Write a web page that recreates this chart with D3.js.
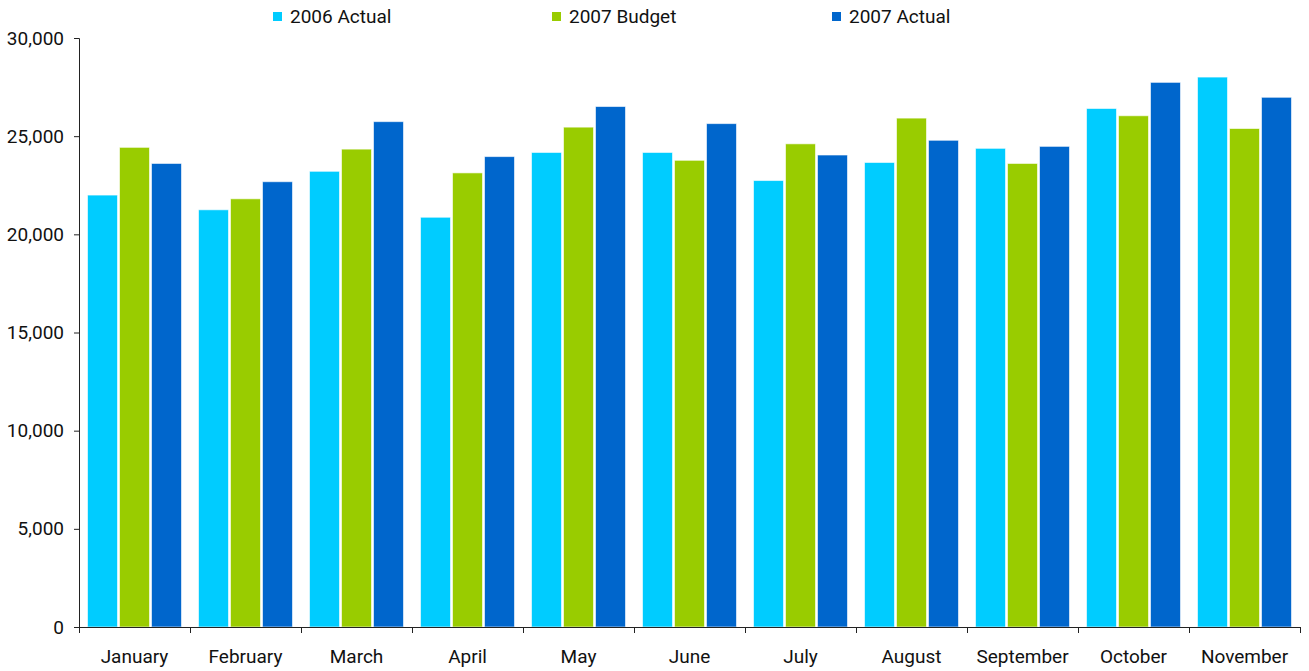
<!DOCTYPE html>
<html>
<head>
<meta charset="utf-8">
<script src="https://cdn.jsdelivr.net/npm/d3@7"></script>
<style>
  body { margin: 0; background: #fff; }
  text { font-family: Roboto, "DejaVu Sans", sans-serif; fill: #111; }
</style>
</head>
<body>
<div id="chart"></div>
<script>
var months = ["January", "February", "March", "April", "May", "June", "July", "August", "September", "October", "November"];
var seriesNames = ["2006 Actual", "2007 Budget", "2007 Actual"];
var actual2006 = [22000, 21250, 23210, 20870, 24170, 24170, 22740, 23660, 24380, 26410, 28010];
var budget2007 = [24430, 21810, 24340, 23130, 25460, 23770, 24610, 25920, 23610, 26040, 25390];
var actual2007 = [23610, 22680, 25740, 23960, 26510, 25640, 24040, 24790, 24480, 27740, 26980];
var colors = ["#00ccff", "#99cc00", "#0066cc"];
var yTicks = [0, 5000, 10000, 15000, 20000, 25000, 30000];

var allSeries = [actual2006, budget2007, actual2007];

var width = 1309, height = 671;
var margin = {top: 38, right: 9, bottom: 44, left: 79};
var innerW = width - margin.left - margin.right,
    innerH = height - margin.top - margin.bottom;

var svg = d3.select("#chart")
    .append("svg")
        .attr("width", width)
        .attr("height", height);

var g = svg.append("g")
    .attr("transform", "translate(" + margin.left + "," + margin.top + ")");

var x0 = d3.scaleBand().domain(months).range([0, innerW]).padding(0);
var x1 = d3.scaleBand().domain(seriesNames).range([0, x0.bandwidth()])
    .paddingInner(0.0625).paddingOuter(0.266);
var y = d3.scaleLinear().domain([0, 30000]).range([innerH, 0]);

// bars
var groups = g.selectAll(".month")
    .data(months)
    .enter().append("g")
    .attr("class", "month")
    .attr("transform", function(d) { return "translate(" + x0(d) + ",0)"; });

groups.selectAll("rect")
    .data(function(d, i) {
        return seriesNames.map(function(s, j) { return {s: s, v: allSeries[j][i], c: colors[j]}; });
    })
    .enter().append("rect")
    .attr("x", function(d) { return x1(d.s); })
    .attr("width", x1.bandwidth())
    .attr("y", function(d) { return y(d.v); })
    .attr("height", function(d) { return innerH - y(d.v); })
    .attr("fill", function(d) { return d.c; })
    .attr("stroke", "rgba(255,255,255,0.6)")
    .attr("stroke-width", 1);

// y axis
var yAxis = d3.axisLeft(y)
    .tickValues(yTicks)
    .tickSize(5)
    .tickPadding(10)
    .tickFormat(d3.format(","));
var yg = g.append("g").attr("class", "y axis").call(yAxis);
yg.select(".domain").attr("stroke", "#222").attr("d", "M-5,0.5H0.5V" + innerH);
yg.selectAll("line").attr("stroke", "#222");
yg.selectAll("text").style("font-size", "19px");

// x axis
var xAxis = d3.axisBottom(x0).tickSize(0).tickPadding(23);
var xg = g.append("g")
    .attr("class", "x axis")
    .attr("transform", "translate(0," + innerH + ")")
    .call(xAxis);
xg.select(".domain").attr("stroke", "#222").attr("d", "M0,0.5H" + innerW);
xg.selectAll("text").style("font-size", "19px");

// tick marks between the months
var bounds = months.map(function(m) { return x0(m); }).concat([innerW]);
xg.selectAll(".sep")
    .data(bounds)
    .enter().append("line")
    .attr("class", "sep")
    .attr("x1", function(d) { return Math.round(d) + 0.5; })
    .attr("x2", function(d) { return Math.round(d) + 0.5; })
    .attr("y1", 0)
    .attr("y2", 6)
    .attr("stroke", "#222");

// legend
var legendX = [273, 552, 832];
var legend = svg.selectAll(".legend")
    .data(seriesNames)
    .enter().append("g")
    .attr("class", "legend")
    .attr("transform", function(d, i) { return "translate(" + legendX[i] + ",0)"; });

legend.append("rect")
    .attr("x", 0)
    .attr("y", 12)
    .attr("width", 9)
    .attr("height", 9)
    .attr("fill", function(d, i) { return colors[i]; });

legend.append("text")
    .attr("x", 17)
    .attr("y", 23)
    .style("font-size", "19px")
    .text(function(d) { return d; });
</script>
</body>
</html>
